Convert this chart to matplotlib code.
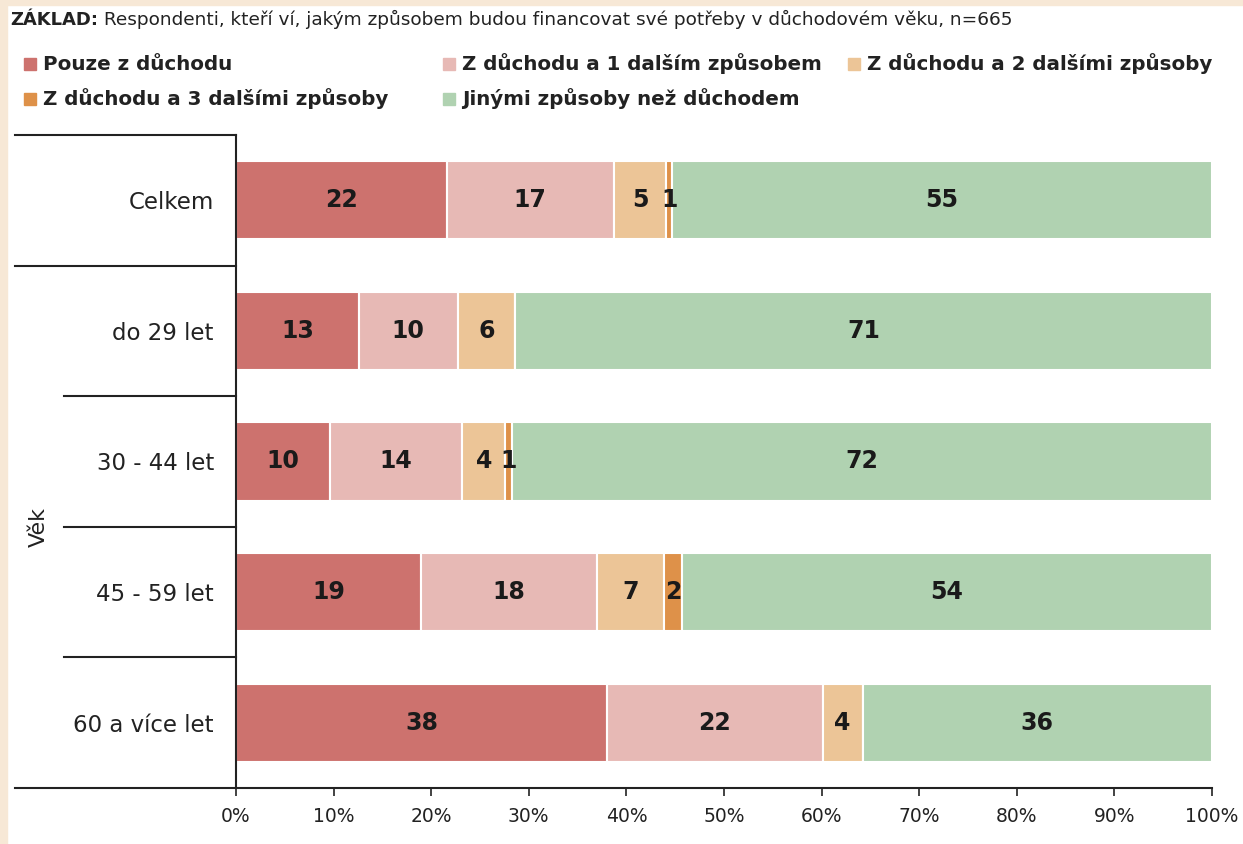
import matplotlib
matplotlib.use("Agg")
import matplotlib.pyplot as plt
from matplotlib.patches import Rectangle
import numpy as np

categories = ["Celkem", "do 29 let", "30 - 44 let", "45 - 59 let", "60 a více let"]
series_names = ["Pouze z důchodu", "Z důchodu a 1 dalším způsobem",
                "Z důchodu a 2 dalšími způsoby", "Z důchodu a 3 dalšími způsoby",
                "Jinými způsoby než důchodem"]
pouze = [21.6, 12.6, 9.6, 19.0, 38.0]
dalsi1 = [17.1, 10.1, 13.6, 18.0, 22.1]
dalsi2 = [5.4, 5.9, 4.4, 6.9, 4.1]
dalsi3 = [0.6, 0.0, 0.7, 1.8, 0.0]
jine = [55.3, 71.4, 71.7, 54.3, 35.8]
colors = ["#CD726E", "#E7B9B5", "#ECC597", "#DE9149", "#B0D2B1"]
xticks = np.arange(0, 101, 10)

series = [pouze, dalsi1, dalsi2, dalsi3, jine]

W, H = 1243, 844
fig = plt.figure(figsize=(W / 100, H / 100), dpi=100, facecolor="white")
# beige frame strips at left and top
fig.patches.append(Rectangle((0, 0), 7 / W, 1, transform=fig.transFigure,
                             color="#F7E8D6", zorder=0))
fig.patches.append(Rectangle((0, 1 - 5 / H), 1, 5 / H, transform=fig.transFigure,
                             color="#F7E8D6", zorder=0))

ax = fig.add_axes([236 / W, 1 - 788 / H, 976 / W, 653 / H])
ax.set_facecolor("white")

y = np.arange(len(categories))
left = np.zeros(len(categories))
for vals, c, name in zip(series, colors, series_names):
    vals = np.array(vals)
    bars = ax.barh(y, vals, left=left, height=0.6, color=c, edgecolor="white",
                   linewidth=1.5, label=name)
    for b, v in zip(bars, vals):
        if v > 0:
            ax.text(b.get_x() + b.get_width() / 2, b.get_y() + b.get_height() / 2,
                    f"{int(np.floor(v + 0.5))}", ha="center", va="center",
                    fontsize=17, fontweight="bold", color="#1a1a1a")
    left += vals

ax.set_xlim(0, 100)
ax.set_ylim(len(categories) - 0.5, -0.5)
ax.set_xticks(xticks)
ax.set_xticklabels([f"{t}%" for t in xticks], fontsize=13.5, color="#222222")
ax.set_yticks(y)
ax.set_yticklabels(categories, fontsize=16.5, color="#222222")
ax.tick_params(axis="y", length=0, pad=16)
ax.tick_params(axis="x", length=6, width=1.2, color="#222222", pad=8)

for s in ["top", "right", "bottom"]:
    ax.spines[s].set_visible(False)
ax.spines["left"].set_linewidth(1.5)
ax.spines["left"].set_color("#222222")

# row separators extending into label area
trans = ax.get_yaxis_transform()
for yy, x0 in [(-0.5, -0.2264), (0.5, -0.2264), (1.5, -0.176), (2.5, -0.176),
               (3.5, -0.176)]:
    ax.plot([x0, 0], [yy, yy], transform=trans, color="#222222", lw=1.5,
            clip_on=False)
ax.plot([-0.2264, 1], [4.5, 4.5], transform=trans, color="#222222", lw=1.5,
        clip_on=False)

ax.text(-0.202, 2.5, "Věk", transform=trans, rotation=90, ha="center",
        va="center", fontsize=16, color="#222222")

# header
t1 = fig.text(10 / W, 1 - 25 / H, "ZÁKLAD:", fontsize=13,
              fontweight="bold", color="#222222", va="baseline")
ax.annotate(" Respondenti, kteří ví, jakým způsobem budou financovat své potřeby "
            "v důchodovém věku, n=665", xy=(1, 0), xycoords=t1, va="bottom",
            fontsize=13.3, color="#222222")

# legend entries placed like the original (pixel positions of the swatches)
legend_pos = [(24, 64), (443, 64), (848, 64), (24, 99), (443, 99)]
for (px, py), c, name in zip(legend_pos, colors, series_names):
    fig.patches.append(Rectangle((px / W, 1 - (py + 6) / H), 12 / W, 12 / H,
                                 transform=fig.transFigure, color=c))
    fig.text((px + 19) / W, 1 - py / H, name, fontsize=14.3, fontweight="bold",
             color="#222222", va="center")

fig.savefig("out.png", dpi=100, facecolor="white")
